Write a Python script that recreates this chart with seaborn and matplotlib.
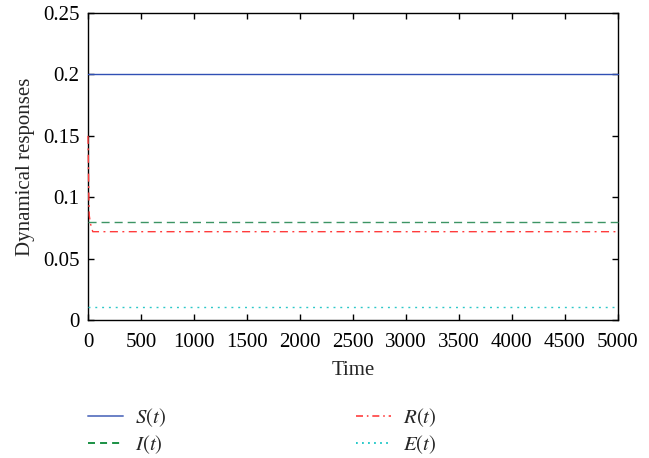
import numpy as np
import pandas as pd
import matplotlib
matplotlib.use("Agg")
import matplotlib.pyplot as plt
import seaborn as sns
from matplotlib.lines import Line2D

# Trajectories of the four compartments
t_S = [0, 5000]
S_vals = [0.2, 0.2]

t_I = [0, 5000]
I_vals = [0.08, 0.08]

t_R = [0, 4, 8, 12, 25, 45, 5000]
R_vals = [0.15, 0.125, 0.10, 0.085, 0.078, 0.072, 0.072]

t_E = [0, 5000]
E_vals = [0.011, 0.011]

series_names = ["$S(t)$", "$I(t)$", "$R(t)$", "$E(t)$"]
x_ticks = [0, 500, 1000, 1500, 2000, 2500, 3000, 3500, 4000, 4500, 5000]
y_ticks = [0, 0.05, 0.1, 0.15, 0.2, 0.25]
y_tick_labels = ["0", "0.05", "0.1", "0.15", "0.2", "0.25"]

sns.set_theme(style="ticks")
plt.rcParams["font.family"] = ["Liberation Serif", "DejaVu Serif"]
plt.rcParams["mathtext.fontset"] = "stix"

fig = plt.figure(figsize=(6.49, 4.58), dpi=100)
ax = fig.add_axes([0.1356, 0.301, 0.8164, 0.6706])

line_colors = ["#3050b4", "#3c9464", "#ff3c3c", "#2cc8c8"]
line_styles = ["-", (0, (5.8, 3.6)), (0, (5.8, 3.2, 1.4, 3.2)), (0, (1.4, 3.5))]
data = [(t_S, S_vals), (t_I, I_vals), (t_R, R_vals), (t_E, E_vals)]

for (tt, vv), c, ls in zip(data, line_colors, line_styles):
    df = pd.DataFrame({"Time": tt, "value": vv})
    sns.lineplot(data=df, x="Time", y="value", ax=ax, lw=1.0, color=c,
                 linestyle=ls, zorder=3, clip_on=False)

ax.set_xlim(0, 5000)
ax.set_ylim(0, 0.25)
ax.set_xticks(x_ticks)
ax.set_yticks(y_ticks)
ax.set_yticklabels(y_tick_labels)
ax.tick_params(direction="in", top=True, right=True, labelsize=15,
               length=4, width=1, colors="black")
ax.tick_params(axis="x", pad=9)
ax.tick_params(axis="y", pad=6)
for sp in ax.spines.values():
    sp.set_linewidth(1.0)
    sp.set_color("black")
ax.set_xlabel("Time", fontsize=15, labelpad=7)
ax.set_ylabel("Dynamical responses", fontsize=15, labelpad=6)

# Legend keys use shorter dash patterns so a few repeats fit in each key
legend_colors = ["#6a80c6", "#1a9044", "#ff5a5a", "#22c8c8"]
legend_styles = ["-", (0, (3.6, 2.6)), (0, (3.6, 2.0, 0.8, 2.0)), (0, (0.9, 2.2))]
handles = [Line2D([0], [0], color=c, lw=1.4, linestyle=ls)
           for c, ls in zip(legend_colors, legend_styles)]
fig.legend(handles, series_names, loc="upper left", bbox_to_anchor=(0.1068, 0.154),
           ncol=2, frameon=False, fontsize=15, handlelength=1.68,
           columnspacing=9.1, labelspacing=0.2, handletextpad=0.58)

fig.savefig("out.png", dpi=100)
